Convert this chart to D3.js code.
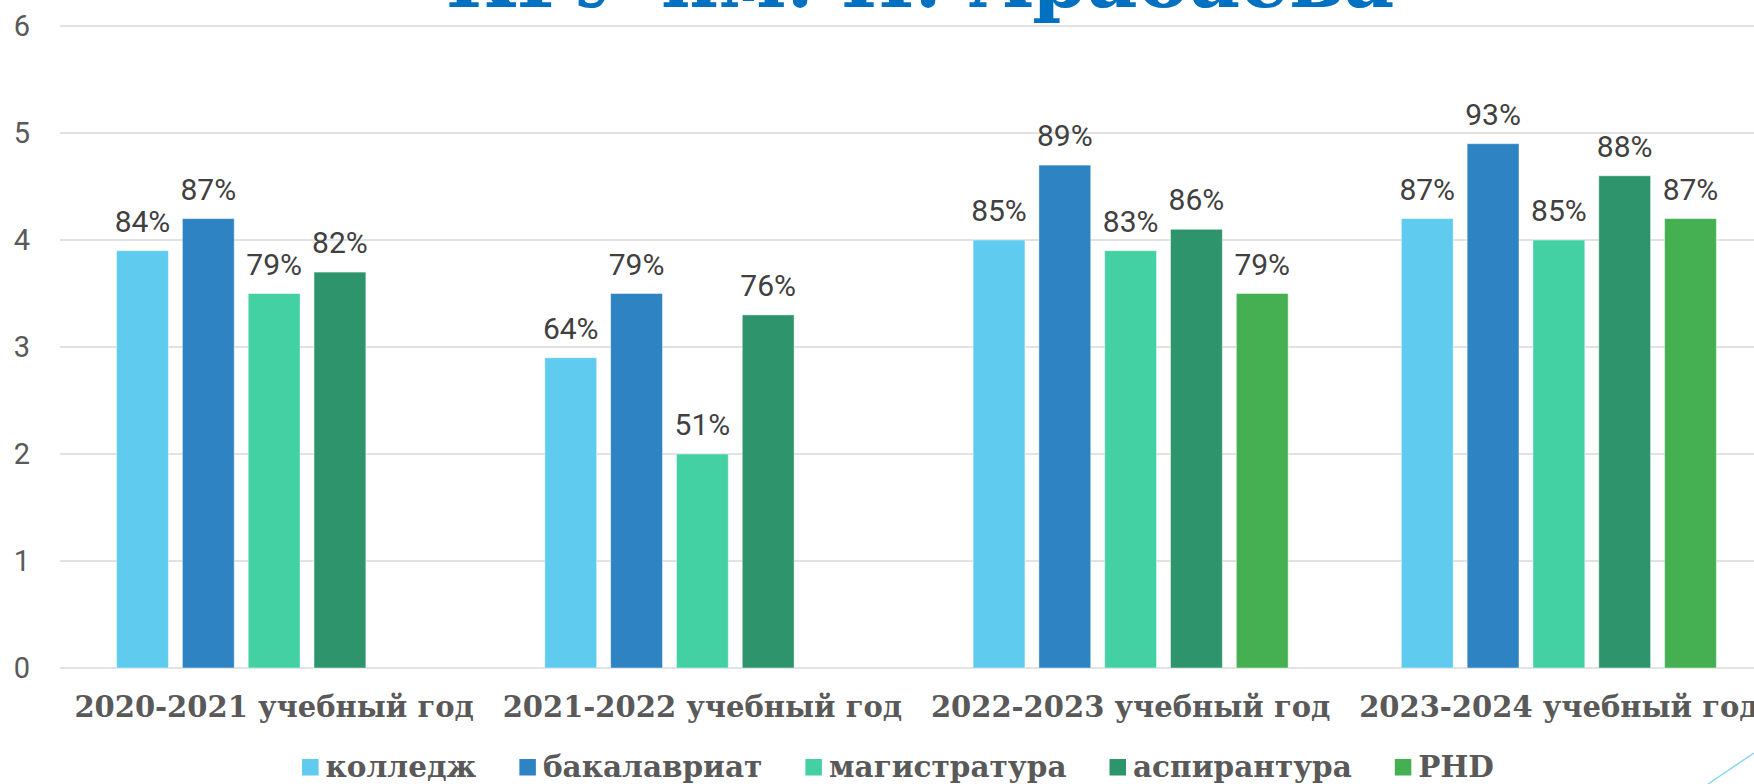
<!DOCTYPE html>
<html>
<head>
<meta charset="utf-8">
<script src="https://cdn.jsdelivr.net/npm/d3@7"></script>
<style>
  html, body { margin: 0; padding: 0; background: #fff; overflow: hidden; }
  svg { display: block; }
</style>
</head>
<body>
<svg id="chart"></svg>
<script>
// chart data
const years = ['2020-2021 учебный год', '2021-2022 учебный год', '2022-2023 учебный год', '2023-2024 учебный год'];
const series = ['колледж', 'бакалавриат', 'магистратура', 'аспирантура', 'PHD'];
const colors = ['#5ECBEF', '#2E83C3', '#43D1A3', '#2E946C', '#44B052'];

const kolledzh = [3.9, 2.9, 4.0, 4.2];
const bakalavriat = [4.2, 3.5, 4.7, 4.9];
const magistratura = [3.5, 2.0, 3.9, 4.0];
const aspirantura = [3.7, 3.3, 4.1, 4.6];
const phd = [null, null, 3.5, 4.2];

const kolledzhLabels = ['84%', '64%', '85%', '87%'];
const bakalavriatLabels = ['87%', '79%', '89%', '93%'];
const magistraturaLabels = ['79%', '51%', '83%', '85%'];
const aspiranturaLabels = ['82%', '76%', '86%', '88%'];
const phdLabels = [null, null, '79%', '87%'];

const yTicks = [0, 1, 2, 3, 4, 5, 6];
const title = 'КГУ им. И. Арабаева';

const values = [kolledzh, bakalavriat, magistratura, aspirantura, phd];
const labels = [kolledzhLabels, bakalavriatLabels, magistraturaLabels, aspiranturaLabels, phdLabels];

const width = 1754, height = 784;
const margin = {top: 26, left: 60, bottom: 116};
const plotRight = 1773; // plot runs a bit past the visible edge

const svg = d3.select('#chart').attr('width', width).attr('height', height);

const y = d3.scaleLinear().domain([0, 6]).range([height - margin.bottom, margin.top]);
const x0 = d3.scaleBand().domain(years).range([margin.left, plotRight]).padding(0);
const x1 = d3.scaleBand().domain(series).range([0, x0.bandwidth()])
  .paddingInner(0.2125).paddingOuter(0.86);

// slide title, its top is cut by the edge like in the slide
svg.append('text')
  .attr('x', 920)
  .attr('y', 7)
  .attr('text-anchor', 'middle')
  .style('font-family', '"DejaVu Serif", serif')
  .style('font-weight', 'bold')
  .style('font-size', '78px')
  .style('fill', '#0070C0')
  .text(title);

// gridlines
svg.append('g')
  .selectAll('line')
  .data(yTicks)
  .join('line')
  .attr('x1', margin.left)
  .attr('x2', width)
  .attr('y1', d => y(d))
  .attr('y2', d => y(d))
  .style('stroke', '#D9D9D9')
  .style('stroke-width', 1.5);

// y axis labels
svg.append('g')
  .selectAll('text')
  .data(yTicks)
  .join('text')
  .attr('x', 22)
  .attr('y', d => y(d))
  .attr('dy', '0.36em')
  .attr('text-anchor', 'middle')
  .style('font-family', 'Roboto, sans-serif')
  .style('font-size', '29px')
  .style('fill', '#595959')
  .text(d => d);

// bars
const rows = [];
series.forEach((s, si) => {
  years.forEach((yr, yi) => {
    if (values[si][yi] != null) {
      rows.push({year: yr, series: s, si: si, value: values[si][yi], label: labels[si][yi]});
    }
  });
});

svg.append('g')
  .selectAll('rect')
  .data(rows)
  .join('rect')
  .attr('x', d => x0(d.year) + x1(d.series))
  .attr('y', d => y(d.value))
  .attr('width', x1.bandwidth())
  .attr('height', d => y(0) - y(d.value))
  .style('fill', d => colors[d.si])
  .style('stroke', '#ffffff')
  .style('stroke-opacity', 0.45)
  .style('stroke-width', 1);

// value labels
svg.append('g')
  .selectAll('text')
  .data(rows)
  .join('text')
  .attr('x', d => x0(d.year) + x1(d.series) + x1.bandwidth() / 2)
  .attr('y', d => y(d.value) - 19)
  .attr('text-anchor', 'middle')
  .style('font-family', 'Roboto, sans-serif')
  .style('font-size', '30px')
  .style('fill', '#404040')
  .text(d => d.label);

// category labels
svg.append('g')
  .selectAll('text')
  .data(years)
  .join('text')
  .attr('x', d => x0(d) + x0.bandwidth() / 2)
  .attr('y', 717)
  .attr('text-anchor', 'middle')
  .style('font-family', '"DejaVu Serif", serif')
  .style('font-weight', 'bold')
  .style('font-size', '29px')
  .style('fill', '#595959')
  .text(d => d);

// legend
const legend = svg.append('g');
const items = legend.selectAll('g')
  .data(series)
  .join('g');
items.append('rect')
  .attr('width', 16.5)
  .attr('height', 16.5)
  .attr('y', 759)
  .style('fill', (d, i) => colors[i]);
items.append('text')
  .attr('x', 23.5)
  .attr('y', 777)
  .style('font-family', '"DejaVu Serif", serif')
  .style('font-weight', 'bold')
  .style('font-size', '29.5px')
  .style('fill', '#595959')
  .text(d => d);

const gap = 43;
const widths = [];
items.each(function() {
  const w = 23.5 + d3.select(this).select('text').node().getComputedTextLength();
  widths.push(w);
});
const total = d3.sum(widths) + gap * (widths.length - 1);
let cursor = 898 - total / 2;
items.attr('transform', (d, i) => {
  const t = 'translate(' + cursor + ',0)';
  cursor += widths[i] + gap;
  return t;
});

// slide decoration in the corner
svg.append('line')
  .attr('x1', 1708).attr('y1', 784)
  .attr('x2', 1754).attr('y2', 753)
  .style('stroke', '#8DD6F2')
  .style('stroke-width', 1.5);
</script>
</body>
</html>
